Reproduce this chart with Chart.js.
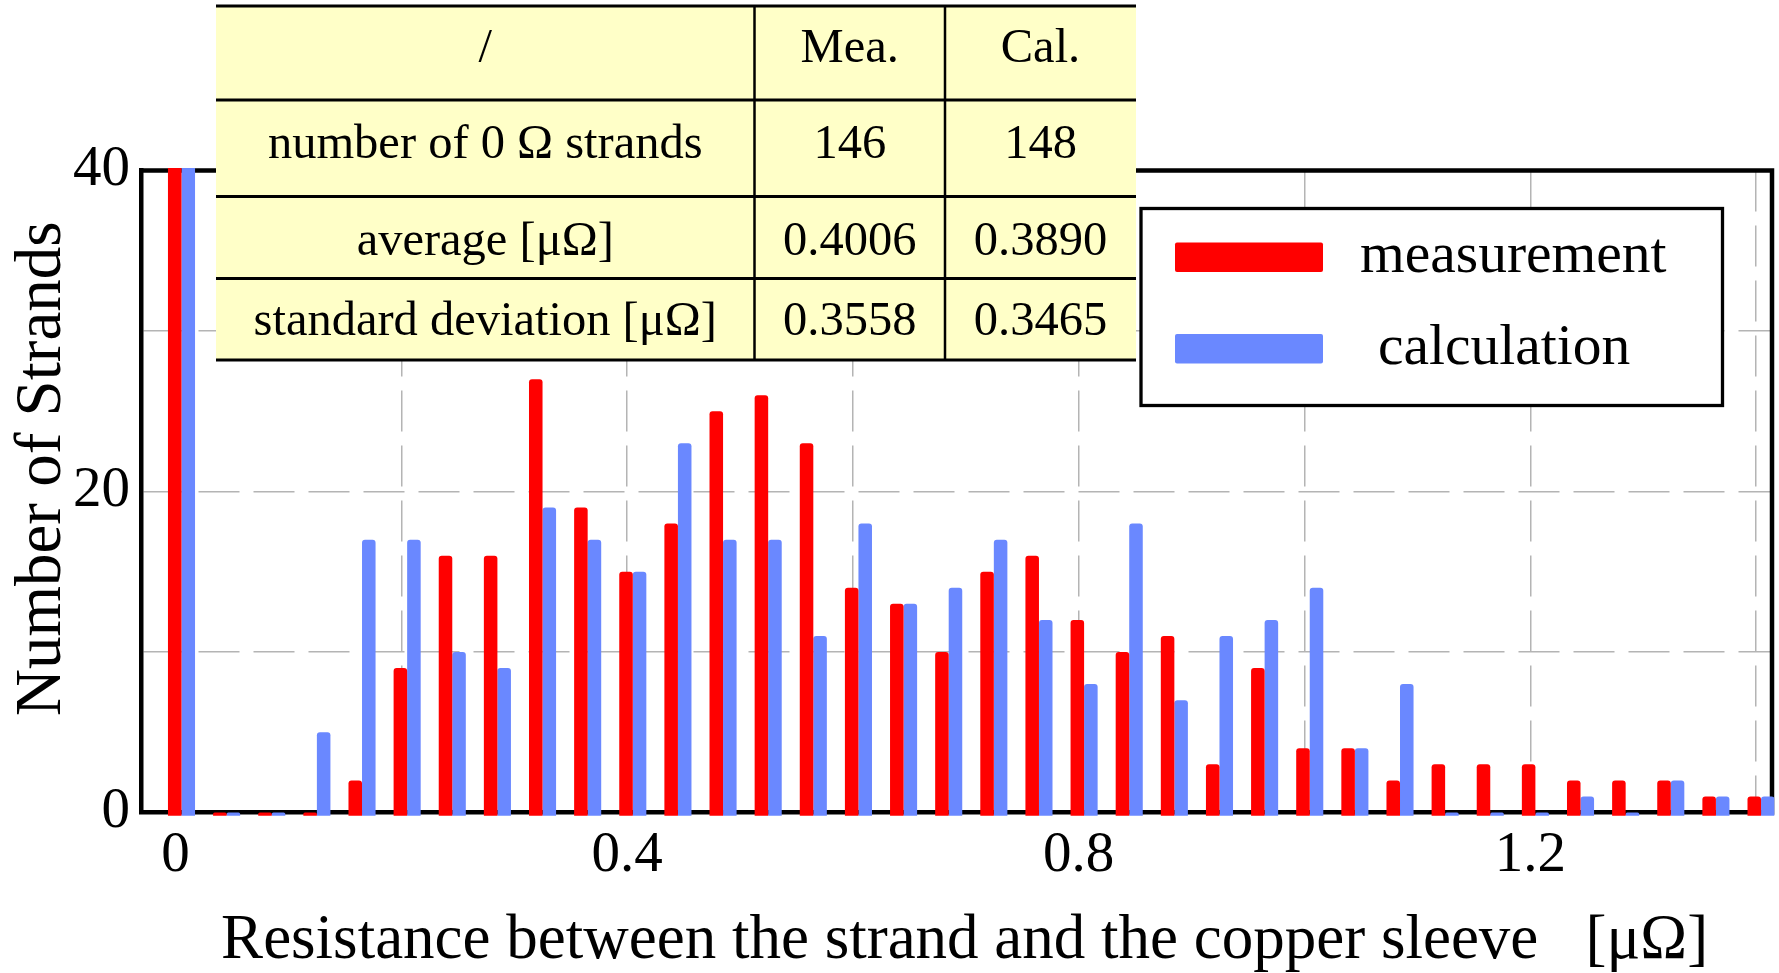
<!DOCTYPE html>
<html>
<head>
<meta charset="utf-8">
<script src="https://cdn.jsdelivr.net/npm/chart.js@4.4.0/dist/chart.umd.min.js"></script>
<style>
    html, body { margin: 0; padding: 0; background: #ffffff; }
</style>
</head>
<body>
<canvas id="strandChart" width="1779" height="973"></canvas>
<script>
// histogram bins, resistance [μΩ]
const bins = [0, 0.04, 0.08, 0.12, 0.16, 0.2, 0.24, 0.28, 0.32, 0.36, 0.4, 0.44, 0.48, 0.52, 0.56, 0.6, 0.64, 0.68,
    0.72, 0.76, 0.8, 0.84, 0.88, 0.92, 0.96, 1.0, 1.04, 1.08, 1.12, 1.16, 1.2, 1.24, 1.28, 1.32, 1.36, 1.4];

// number of strands in each bin (first bin is cut off at 40)
const measurement = [146, 0, 0, 0, 2, 9, 16, 16, 27, 19, 15, 18, 25, 26, 23, 14, 13, 10,
    15, 16, 12, 10, 11, 3, 9, 4, 4, 2, 3, 3, 3, 2, 2, 2, 1, 1];
const calculation = [148, 0, 0, 5, 17, 17, 10, 9, 19, 17, 15, 23, 17, 17, 11, 18, 13, 14,
    17, 12, 8, 18, 7, 11, 12, 14, 4, 8, 0, 0, 0, 1, 0, 2, 1, 1];

const xTickLabels = [0, 0.4, 0.8, 1.2];
const yTickLabels = [0, 20, 40];

// summary table
const tableHeader = ["/", "Mea.", "Cal."];
const tableLabels = ["number of 0 Ω strands", "average [μΩ]", "standard deviation [μΩ]"];
const tableMea = ["146", "0.4006", "0.3558"];
const tableCal = ["148", "0.3890", "0.3465"];

const serif = "'Liberation Serif', 'Times New Roman', serif";
const gridColor = "#b4b4b4";

// top and right edge of the plot frame (left/bottom come from the axes)
const plotFrame = {
    id: "plotFrame",
    beforeDatasetsDraw(chart) {
        const { ctx, chartArea: a } = chart;
        ctx.save();
        ctx.strokeStyle = "#000000";
        ctx.lineWidth = 4.5;
        ctx.beginPath();
        ctx.moveTo(a.left - 2.25, a.top);
        ctx.lineTo(a.right, a.top);
        ctx.lineTo(a.right, a.bottom + 2.25);
        ctx.stroke();
        ctx.restore();
    },
};

// table and legend box drawn over the plot
const overlays = {
    id: "overlays",
    afterDraw(chart) {
        const ctx = chart.ctx;
        ctx.save();

        // table
        const cols = [216, 754.5, 945, 1136];
        const rows = [6, 100, 196.5, 278.5, 360];
        const baselines = [62, 158, 255, 335];
        ctx.fillStyle = "#ffffc8";
        ctx.fillRect(cols[0], rows[0], cols[3] - cols[0], rows[4] - rows[0]);
        ctx.strokeStyle = "#000000";
        ctx.lineWidth = 3;
        rows.forEach(y => {
            ctx.beginPath();
            ctx.moveTo(cols[0], y);
            ctx.lineTo(cols[3], y);
            ctx.stroke();
        });
        ctx.lineWidth = 2.5;
        [cols[1], cols[2]].forEach(x => {
            ctx.beginPath();
            ctx.moveTo(x, rows[0]);
            ctx.lineTo(x, rows[4]);
            ctx.stroke();
        });

        const lines = [tableHeader];
        tableLabels.forEach((label, i) => lines.push([label, tableMea[i], tableCal[i]]));

        ctx.fillStyle = "#000000";
        ctx.font = `48.5px ${serif}`;
        ctx.textAlign = "center";
        ctx.textBaseline = "alphabetic";
        lines.forEach((line, r) => {
            line.forEach((text, c) => {
                ctx.fillText(text, (cols[c] + cols[c + 1]) / 2, baselines[r]);
            });
        });

        // legend
        const box = { left: 1141, top: 208.5, right: 1722.5, bottom: 405.5 };
        ctx.fillStyle = "#ffffff";
        ctx.fillRect(box.left, box.top, box.right - box.left, box.bottom - box.top);
        ctx.lineWidth = 3.3;
        ctx.strokeRect(box.left, box.top, box.right - box.left, box.bottom - box.top);

        const swatchTops = [242.5, 334];
        const textLeft = [1360, 1378];
        ctx.font = `57.5px ${serif}`;
        ctx.textAlign = "left";
        chart.data.datasets.forEach((ds, i) => {
            ctx.fillStyle = ds.backgroundColor;
            ctx.beginPath();
            ctx.roundRect(1175, swatchTops[i], 148, 29.5, 2);
            ctx.fill();
            ctx.fillStyle = "#000000";
            ctx.fillText(ds.label, textLeft[i], swatchTops[i] + 29.5);
        });

        ctx.restore();
    },
};

function setChart() {
    const ctx = document.getElementById("strandChart").getContext("2d");

    new Chart(ctx, {
        type: "bar",
        data: {
            labels: bins,
            datasets: [
                {
                    label: "measurement",
                    data: measurement,
                    backgroundColor: "#ff0000",
                },
                {
                    label: "calculation",
                    data: calculation,
                    backgroundColor: "#6a88ff",
                },
            ],
        },
        options: {
            responsive: false,
            animation: false,
            events: [],
            layout: {
                padding: { top: 170.5, right: 7, left: 0, bottom: 0 },
            },
            datasets: {
                bar: {
                    categoryPercentage: 0.6,
                    barPercentage: 1,
                    borderRadius: 3,
                    borderWidth: 0,
                    base: -0.2,
                    minBarLength: 3,
                    clip: { left: 0, top: 2.5, right: 2.5, bottom: 4 },
                },
            },
            plugins: {
                legend: { display: false },
                tooltip: { enabled: false },
            },
            scales: {
                // scale the bars sit on
                x: {
                    type: "linear",
                    display: false,
                    offset: false,
                    min: -0.03545,
                    max: 1.40971,
                    ticks: { stepSize: 0.2 },
                    grid: { offset: false },
                },
                // visible axis with ticks and grid
                x2: {
                    type: "linear",
                    position: "bottom",
                    offset: false,
                    min: -0.03012,
                    max: 1.41408,
                    afterFit: scale => {
                        scale.height = 160.5;
                    },
                    ticks: {
                        stepSize: 0.2,
                        includeBounds: false,
                        padding: 9,
                        color: "#000000",
                        font: { family: serif, size: 57 },
                        maxRotation: 0,
                        autoSkip: false,
                        callback: value => {
                            const v = Math.round(value * 10) / 10;
                            return xTickLabels.includes(v) ? String(v) : "";
                        },
                    },
                    grid: {
                        offset: false,
                        drawTicks: false,
                        color: gridColor,
                        lineWidth: 1.5,
                    },
                    border: {
                        display: true,
                        color: "#000000",
                        width: 4.5,
                        dash: [41, 14],
                    },
                    title: {
                        display: true,
                        text: " Resistance between the strand and the copper sleeve   [μΩ]",
                        color: "#000000",
                        font: { family: serif, size: 63, lineHeight: 1 },
                        padding: { top: 0, bottom: 0 },
                    },
                },
                y: {
                    min: 0,
                    max: 40,
                    afterFit: scale => {
                        scale.width = 141.5;
                    },
                    ticks: {
                        stepSize: 10,
                        padding: 11.5,
                        color: "#000000",
                        font: { family: serif, size: 57 },
                        callback: value => (yTickLabels.includes(value) ? String(value) : ""),
                    },
                    grid: {
                        drawTicks: false,
                        color: gridColor,
                        lineWidth: 1.5,
                    },
                    border: {
                        display: true,
                        color: "#000000",
                        width: 4.5,
                        dash: [41, 14],
                    },
                    title: {
                        display: true,
                        text: "\u2002\u2009Number of Strands",
                        color: "#000000",
                        font: { family: serif, size: 65, lineHeight: 1 },
                        padding: { top: 10, bottom: 0 },
                    },
                },
            },
        },
        plugins: [plotFrame, overlays],
    });
}

setChart();
</script>
</body>
</html>
